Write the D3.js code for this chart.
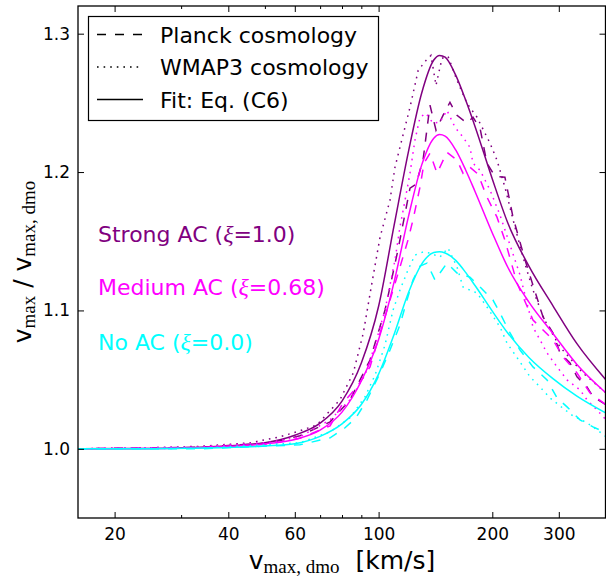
<!DOCTYPE html>
<html>
<head>
<meta charset="utf-8">
<script src="https://cdn.jsdelivr.net/npm/d3@7"></script>
<style>
body { margin: 0; background: #fff; }
svg { display: block; font-family: "DejaVu Sans", sans-serif; }
</style>
</head>
<body>
<svg id="chart" width="606" height="576"></svg>
<script>
// valori: [v_max,dmo (km/s), v_max / v_max,dmo]
var strongPlanck = [[16,1.0],[33.7,1.0011],[51.6,1.0043],[61.9,1.0094],[74.4,1.0195],[84,1.0354],[94.9,1.0642],[104,1.1003],[112.5,1.1436],[121.1,1.1884],[125.6,1.1912],[131.1,1.2086],[136.8,1.2483],[141.9,1.2302],[148.1,1.241],[154.5,1.2504],[161.3,1.241],[171.4,1.2353],[177.8,1.2396],[185.6,1.2317],[193.6,1.2064],[203.3,1.197],[216,1.1963],[226.9,1.1674],[244.2,1.1364],[272.5,1.0953],[289.6,1.0837],[302.2,1.0693],[321.1,1.0621],[335.2,1.052],[356.2,1.0447],[369.6,1.0375],[392.7,1.0332],[400,1.0318]];
var strongWmap = [[16,1.0],[24.8,1.0007],[33.7,1.0018],[45.7,1.0043],[54.8,1.0087],[61.9,1.013],[68.7,1.0173],[79,1.0354],[85.7,1.0548],[91.1,1.0837],[96,1.1198],[100.9,1.153],[107.2,1.1797],[110.5,1.2035],[113.9,1.2179],[121.1,1.2468],[127.3,1.2735],[133.5,1.2807],[137.6,1.2843],[141.9,1.2627],[147.2,1.2822],[152.7,1.2836],[161.3,1.2663],[171.4,1.2497],[182.2,1.2396],[197.3,1.2208],[205.8,1.2086],[216,1.1891],[229.7,1.16],[244.2,1.1335],[256.3,1.1147],[275,1.0931],[302.2,1.0736],[347.6,1.0548],[400,1.0404]];

var mediumPlanck = [[16,1.0],[33.7,1.0007],[51.6,1.0036],[61.9,1.0076],[74.4,1.0166],[80.5,1.0332],[87.7,1.0447],[94.9,1.0592],[100.9,1.0837],[107.2,1.1075],[113.9,1.1313],[119.6,1.1508],[123.3,1.1653],[128.7,1.1891],[131.9,1.2064],[136.8,1.2136],[142.8,1.1992],[151.7,1.2143],[161.3,1.2086],[167.3,1.1992],[174.5,1.2035],[183.3,1.1985],[193.6,1.1819],[205.8,1.1674],[216,1.1508],[232.5,1.1198],[256.3,1.0931],[289.6,1.0787],[307.8,1.0664],[335.2,1.0548],[362.9,1.0404],[400,1.0318]];
var mediumWmap = [[16,1.0],[33.7,1.0014],[51.6,1.0047],[61.9,1.0087],[74.4,1.0209],[84,1.0354],[92,1.0534],[97.9,1.0751],[104,1.1003],[110.5,1.1364],[113.9,1.1602],[117.5,1.1797],[121.1,1.1992],[124.8,1.223],[128.7,1.2396],[133.5,1.2425],[139.3,1.2353],[145.4,1.236],[151.7,1.2446],[159.3,1.2324],[167.3,1.2252],[174.5,1.2179],[177.8,1.2064],[185.6,1.2013],[197.3,1.1869],[209.6,1.1689],[222.8,1.1472],[236.8,1.1256],[256.3,1.088],[267.5,1.0787],[279.2,1.0693],[296.8,1.0592],[315.4,1.0498],[341.3,1.0426],[356.2,1.0354],[378.7,1.0281],[400,1.0209]];

var noPlanck = [[16,1.0],[33.7,1.0],[61.9,1.0029],[74.4,1.0079],[81.5,1.0152],[87.1,1.0224],[93.2,1.0354],[100.9,1.0548],[107.2,1.0714],[113.9,1.0895],[118.9,1.1075],[123.3,1.122],[128.7,1.132],[134.3,1.1342],[141,1.122],[151.7,1.1342],[161.3,1.127],[174.5,1.1241],[185.6,1.1169],[200.8,1.1075],[209.6,1.0981],[222.8,1.0837],[236.8,1.0714],[256.3,1.0592],[279.2,1.0498],[296.8,1.0368],[315.4,1.0303],[341.3,1.0209],[369.6,1.0159],[400,1.0115]];
var noWmap = [[16,1.0],[33.7,1.0004],[61.9,1.0043],[74.4,1.0123],[84,1.0224],[92,1.0375],[97.9,1.0534],[104,1.0751],[109.2,1.1003],[113.9,1.1147],[119.6,1.1292],[124.8,1.14],[131.1,1.1422],[136.8,1.1414],[145.4,1.1386],[152.7,1.1451],[161.3,1.1313],[167.3,1.1169],[174.5,1.1147],[182.2,1.1126],[193.6,1.1025],[209.6,1.088],[218.7,1.0765],[236.8,1.0628],[251.7,1.052],[267.5,1.0447],[284.3,1.0368],[302.2,1.031],[327.2,1.0238],[356.2,1.0188],[378.7,1.0137],[400,1.0087]];

var fitV = [16, 25, 35, 50, 60, 70, 80, 90, 100, 110, 120, 130, 140, 145, 150, 160, 170, 180, 200, 220, 250, 290, 335, 400];
var strongFitR = [1.0, 1.0003, 1.0013, 1.0044, 1.0098, 1.0185, 1.0345, 1.062, 1.103, 1.162, 1.215, 1.257, 1.281, 1.2843, 1.283, 1.270, 1.252, 1.233, 1.195, 1.163, 1.132, 1.103, 1.076, 1.0498];
var mediumFitR = [1.0, 1.0002, 1.001, 1.0035, 1.0068, 1.0135, 1.0265, 1.049, 1.079, 1.121, 1.168, 1.205, 1.2245, 1.2271, 1.226, 1.216, 1.2015, 1.186, 1.156, 1.131, 1.106, 1.083, 1.061, 1.0404];
var noFitR = [1.0, 1.0001, 1.0005, 1.002, 1.0037, 1.009, 1.018, 1.032, 1.054, 1.083, 1.113, 1.1335, 1.1418, 1.1424, 1.1415, 1.1362, 1.1275, 1.118, 1.0995, 1.0835, 1.066, 1.0505, 1.038, 1.0258];

var modelNames = ["Strong AC", "Medium AC", "No AC"];
var modelXi = ["1.0", "0.68", "0.0"];
var modelColors = ["#800080", "#ff00ff", "#00ffff"];
var legendLabels = ["Planck cosmology", "WMAP3 cosmology", "Fit: Eq. (C6)"];
var xTicksMajor = [20, 40, 60, 100, 200, 300];
var xTicksMinor = [30, 50, 70, 80, 90];
var yTicks = [1.0, 1.1, 1.2, 1.3];

function fitPoints(r) {
	return fitV.map(function(v, i) { return [v, r[i]]; });
}

var models = [
	[strongPlanck, strongWmap, fitPoints(strongFitR)],
	[mediumPlanck, mediumWmap, fitPoints(mediumFitR)],
	[noPlanck, noWmap, fitPoints(noFitR)]
];
var dashes = ["9,9", "1.6,5", null];

var svg = d3.select("#chart"),
	plotLeft = 78, plotRight = 606, plotTop = 6, plotBottom = 518;

var xScale = d3.scaleLog().domain([16, 400]).range([plotLeft, plotRight]);
var yScale = d3.scaleLinear().domain([0.95, 1.32]).range([plotBottom, plotTop]);

svg.append("defs").append("clipPath").attr("id", "plotClip")
	.append("rect").attr("x", plotLeft).attr("y", plotTop)
	.attr("width", plotRight - plotLeft).attr("height", plotBottom - plotTop);

// linee: simulazioni (tratteggio / punti) e fit (continua)
var line = d3.line()
	.x(function(d) { return xScale(d[0]); })
	.y(function(d) { return yScale(d[1]); });
var smooth = d3.line()
	.x(function(d) { return xScale(d[0]); })
	.y(function(d) { return yScale(d[1]); })
	.curve(d3.curveMonotoneX);

var plot = svg.append("g").attr("clip-path", "url(#plotClip)");
models.forEach(function(set, i) {
	set.forEach(function(data, k) {
		plot.append("path")
			.datum(data)
			.attr("d", k == 2 ? smooth : line)
			.style("fill", "none")
			.style("stroke", modelColors[i])
			.style("stroke-width", 1.5)
			.style("stroke-dasharray", dashes[k]);
	});
});

// assi
function styleAxis(g) {
	g.select(".domain").remove();
	g.selectAll("line").attr("stroke", "#000");
	g.selectAll("text").attr("fill", "#000")
		.attr("font-size", 17).attr("font-family", "DejaVu Sans");
}

svg.append("g").attr("transform", "translate(0," + plotBottom + ")")
	.call(d3.axisBottom(xScale).tickValues(xTicksMajor).tickFormat(d3.format("d"))
		.tickSizeInner(-6).tickSizeOuter(0).tickPadding(10))
	.call(styleAxis);
svg.append("g").attr("transform", "translate(0," + plotBottom + ")")
	.call(d3.axisBottom(xScale).tickValues(xTicksMinor).tickFormat("")
		.tickSizeInner(-3).tickSizeOuter(0))
	.call(styleAxis);
svg.append("g").attr("transform", "translate(0," + plotTop + ")")
	.call(d3.axisTop(xScale).tickValues(xTicksMajor).tickFormat("")
		.tickSizeInner(-6).tickSizeOuter(0))
	.call(styleAxis);
svg.append("g").attr("transform", "translate(0," + plotTop + ")")
	.call(d3.axisTop(xScale).tickValues(xTicksMinor).tickFormat("")
		.tickSizeInner(-3).tickSizeOuter(0))
	.call(styleAxis);
svg.append("g").attr("transform", "translate(" + plotLeft + ",0)")
	.call(d3.axisLeft(yScale).tickValues(yTicks).tickFormat(d3.format(".1f"))
		.tickSizeInner(-6).tickSizeOuter(0).tickPadding(8))
	.call(styleAxis);
svg.append("g").attr("transform", "translate(" + (plotRight - 0.5) + ",0)")
	.call(d3.axisRight(yScale).tickValues(yTicks).tickFormat("")
		.tickSizeInner(-6).tickSizeOuter(0))
	.call(styleAxis);

svg.append("rect")
	.attr("x", plotLeft).attr("y", plotTop)
	.attr("width", plotRight - 0.5 - plotLeft).attr("height", plotBottom - plotTop)
	.style("fill", "none").style("stroke", "#000").style("stroke-width", 1.3);

// etichette degli assi
var xLabel = svg.append("text")
	.attr("x", (plotLeft + plotRight) / 2).attr("y", 569)
	.attr("text-anchor", "middle")
	.style("font-size", "25px");
xLabel.append("tspan").text("v");
xLabel.append("tspan").attr("dy", 4)
	.style("font-family", "Liberation Serif").style("font-size", "19px")
	.text("max, dmo");
xLabel.append("tspan").attr("dy", -4).text("\u00a0\u00a0[km/s]");

var yLabel = svg.append("text")
	.attr("transform", "translate(31," + ((plotTop + plotBottom) / 2) + ")rotate(-90)")
	.attr("text-anchor", "middle")
	.style("font-size", "25px");
yLabel.append("tspan").text("v");
yLabel.append("tspan").attr("dy", 4)
	.style("font-family", "Liberation Serif").style("font-size", "19px")
	.text("max");
yLabel.append("tspan").attr("dy", -4).text(" / v");
yLabel.append("tspan").attr("dy", 4)
	.style("font-family", "Liberation Serif").style("font-size", "19px")
	.text("max, dmo");

// legenda
var legend = svg.append("g");
legend.append("rect")
	.attr("x", 88.5).attr("y", 16.5).attr("width", 290).attr("height", 104)
	.style("fill", "#fff").style("stroke", "#000").style("stroke-width", 1.2);
legendLabels.forEach(function(label, k) {
	var ly = 34.5 + k * 32.5;
	legend.append("line")
		.attr("x1", 97).attr("x2", 143).attr("y1", ly).attr("y2", ly)
		.style("stroke", "#000").style("stroke-width", 1.5)
		.style("stroke-dasharray", dashes[k]);
	legend.append("text")
		.attr("x", 160).attr("y", ly + 8)
		.style("font-size", "22px")
		.text(label);
});

// nomi dei modelli
modelNames.forEach(function(name, i) {
	var t = svg.append("text")
		.attr("x", 98).attr("y", [241.5, 295, 350][i])
		.style("font-size", "22px")
		.style("fill", modelColors[i]);
	t.append("tspan").text(name + " (");
	t.append("tspan").style("font-family", "Liberation Serif")
		.style("font-style", "italic").style("font-size", "24px").text("\u03be");
	t.append("tspan").text("=" + modelXi[i] + ")");
});
</script>
</body>
</html>
